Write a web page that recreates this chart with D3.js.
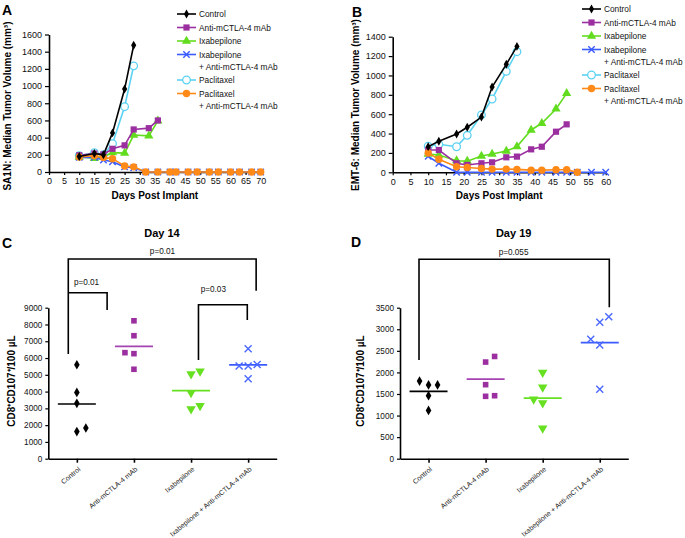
<!DOCTYPE html>
<html><head><meta charset="utf-8">
<script src="https://cdn.jsdelivr.net/npm/d3@7"></script>
<style>body{margin:0;background:#fff} svg text{font-family:"Liberation Sans",Arial,Helvetica,sans-serif}</style>
</head><body><svg id="c" width="685" height="538"></svg>
<script>
// ---------------- DATA ----------------
// Panel A (SA1N)
const aDaysShort = [10,15,18,21,25,28];
const aDaysMid = [10,15,18,21,25,28,33,36];
const aDaysLong = [10,15,18,21,25,28,32,36,40,42,46,49,53,56,60,63,67,70];
const aControl = [180,215,200,455,965,1475];
const aAnti = [195,215,205,270,310,495,510,600];
const aIxa = [175,160,180,225,220,430,420,595];
const aIxaAnti = [170,170,140,120,60,50,0,0,0,0,0,0,0,0,0,0,0,0];
const aPac = [190,225,200,330,760,1235];
const aPacAnti = [175,190,170,155,70,60,0,0,0,0,0,0,0,0,0,0,0,0];
const aXTicks = d3.range(0,71,5);
const aYTicks = d3.range(0,1601,200);

// Panel B (EMT-6)
const bDaysShort = [10,13,18,21,25,28,32,35];
const bDaysMid = [10,13,18,21,25,28,32,35,39,42,46,49];
const bDaysPA = [10,13,18,21,25,28,32,35,39,42,46,49,52];
const bDaysIA = [10,13,18,21,25,28,32,35,39,42,46,49,52,56,60];
const bControl = [265,320,395,465,570,880,1115,1300];
const bAnti = [230,230,93,76,93,103,155,162,237,264,419,495];
const bIxa = [189,179,120,115,168,189,220,265,437,506,654,815];
const bIxaAnti = [165,93,0,0,0,0,0,0,0,0,0,0,0,0,0];
const bPac = [270,289,264,382,592,757,1043,1245];
const bPacAnti = [200,134,58,50,40,33,33,30,22,22,27,27,0];
const bXTicks = d3.range(0,61,5);
const bYTicks = d3.range(0,1401,200);

// Legend labels
const legendNames = [["Control"],["Anti-mCTLA-4 mAb"],["Ixabepilone"],["Ixabepilone","+ Anti-mCTLA-4 mAb"],["Paclitaxel"],["Paclitaxel","+ Anti-mCTLA-4 mAb"]];

// Panels C / D categories
const groups = ["Control","Anti-mCTLA-4 mAb","Ixabepilone","Ixabepilone + Anti-mCTLA-4 mAb"];
// values and jitter slot (-1,0,1)
const cControl = [5600,3950,3300,1620,1830], cControlSlot=[0,0,0,0,1];
const cAnti = [8220,7330,6320,6260,5330], cAntiSlot=[0,0,-1,0,0];
const cIxa = [5050,5210,3930,3160,2960], cIxaSlot=[0,1,0,1,0];
const cIxaAnti = [6560,5520,5520,5620,4770], cIxaAntiSlot=[0,-1,0,1,0];
const cYTicks = d3.range(0,9001,1000);

const dControl = [1800,1710,1710,1460,1120], dControlSlot=[-1,0,1,0,0];
const dAnti = [2240,2370,1716,1446,1460], dAntiSlot=[0,1,0,0,1];
const dIxa = [2000,1654,1376,1291,704], dIxaSlot=[0,0,-1,0,0];
const dIxaAnti = [3290,3160,2767,2635,1608], dIxaAntiSlot=[1,0,-1,0,0];
const dYTicks = d3.range(0,3501,500);

// significance brackets: [leftIdx, rightIdx, topValue, leftBottom, rightBottom]
const cBrackets = [[-0.15,3.14,11900,6240,10010],[-0.15,0.53,9893,9893,8862],[2.13,2.985,9177,5882,8266]];
const cPLabels = [["p=0.01",1.5,12200],["p=0.01",0.17,10380],["p=0.03",2.39,9934]];
const dBrackets = [[-0.167,3.167,4622,2288,3510]];
const dPLabels = [["p=0.055",1.49,4733]];

// ---------------- DRAWING ----------------
const svg = d3.select("#c");
const FONT = '"Liberation Sans",Arial,Helvetica,sans-serif';
const COL = {control:"#000000", anti:"#9b2fa0", ixa:"#62dc1e", ixaAnti:"#3b5bff", pac:"#5cd2f2", pacAnti:"#ff8a18"};
const fmt = d3.format("d");

function marker(g, shape, color, x, y, size){
  if(shape==="x"){
    const s=size;
    g.append("path").attr("d",`M${x-s},${y-s}L${x+s},${y+s}M${x-s},${y+s}L${x+s},${y-s}`)
      .attr("stroke",color).attr("stroke-width",1.4).attr("fill","none");
    return;
  }
  let type, rot=0, area;
  if(shape==="diamond"){type=d3.symbolDiamond; area=size*size*2.0;}
  else if(shape==="square"){type=d3.symbolSquare; area=size*size*4;}
  else if(shape==="tri"){type=d3.symbolTriangle; area=size*size*3.2;}
  else if(shape==="triDown"){type=d3.symbolTriangle; area=size*size*3.2; rot=180;}
  else {type=d3.symbolCircle; area=Math.PI*size*size;}
  const p = g.append("path").attr("d",d3.symbol(type,area)())
    .attr("transform",`translate(${x},${y}) rotate(${rot})`);
  if(shape==="open") p.attr("fill","#fff").attr("stroke",color).attr("stroke-width",1.3);
  else p.attr("fill",color);
}

function styleAxis(ax, fs){
  ax.select(".domain").attr("stroke","#000").attr("stroke-width",1.6);
  ax.selectAll(".tick line").attr("stroke","#000").attr("stroke-width",1.2);
  ax.selectAll(".tick text").attr("font-size",fs).attr("font-family",FONT).attr("fill","#111");
}

function lineChart(cfg){
  const g = svg.append("g");
  const x = d3.scaleLinear().domain(cfg.xDomain).range(cfg.xRange);
  const y = d3.scaleLinear().domain(cfg.yDomain).range(cfg.yRange);
  const xa = g.append("g").attr("transform",`translate(0,${cfg.yRange[0]})`)
    .call(d3.axisBottom(x).tickValues(cfg.xTicks).tickFormat(fmt).tickSize(3).tickPadding(3).tickSizeOuter(0));
  styleAxis(xa, 9);
  const ya = g.append("g").attr("transform",`translate(${cfg.xRange[0]},0)`)
    .call(d3.axisLeft(y).tickValues(cfg.yTicks).tickFormat(fmt).tickSize(4).tickPadding(3).tickSizeOuter(0));
  styleAxis(ya, 9);
  g.append("text").attr("x",(cfg.xRange[0]+cfg.xRange[1])/2).attr("y",cfg.yRange[0]+27)
    .attr("text-anchor","middle").attr("font-weight","bold").attr("font-size",10).text("Days Post Implant");
  g.append("text").attr("transform",`translate(${cfg.yTitleX},${cfg.yTitleY}) rotate(-90)`)
    .attr("text-anchor","middle").attr("font-weight","bold").attr("font-size",10).text(cfg.yTitle);
  g.append("text").attr("x",cfg.panel[1]).attr("y",cfg.panel[2]).attr("font-weight","bold")
    .attr("font-size",14).text(cfg.panel[0]);
  const line = d3.line().x(d=>x(d[0])).y(d=>y(d[1]));
  cfg.series.forEach(s=>{
    const pts = d3.zip(s.days, s.values);
    g.append("path").attr("d",line(pts)).attr("fill","none").attr("stroke",s.color).attr("stroke-width",1.6);
    pts.forEach(p=>marker(g, s.shape, s.color, x(p[0]), y(p[1]), s.size));
  });
  // legend
  const lg = g.append("g");
  let yy = cfg.legend[2];
  cfg.legendItems.forEach((it,i)=>{
    lg.append("line").attr("x1",cfg.legend[0]).attr("x2",cfg.legend[0]+19).attr("y1",yy).attr("y2",yy)
      .attr("stroke",it.color).attr("stroke-width",1.6);
    marker(lg, it.shape, it.color, cfg.legend[0]+9.5, yy, it.size);
    legendNames[i].forEach((t,j)=>{
      lg.append("text").attr("x",cfg.legend[0]+22).attr("y",yy+3.1+j*12).attr("font-size",8.3).attr("fill","#111").text(t);
    });
    yy += 13.5 + (legendNames[i].length-1)*12;
  });
}

const specA = [
  {key:"pac", days:aDaysShort, values:aPac, shape:"open", size:3.8},
  {key:"ixa", days:aDaysMid, values:aIxa, shape:"tri", size:3.4},
  {key:"anti", days:aDaysMid, values:aAnti, shape:"square", size:3.1},
  {key:"ixaAnti", days:aDaysLong, values:aIxaAnti, shape:"x", size:3.2},
  {key:"pacAnti", days:aDaysLong, values:aPacAnti, shape:"circle", size:3.7},
  {key:"control", days:aDaysShort, values:aControl, shape:"diamond", size:3.4}
].map(s=>Object.assign(s,{color:COL[s.key]}));
const specB = [
  {key:"pac", days:bDaysShort, values:bPac, shape:"open", size:3.8},
  {key:"ixa", days:bDaysMid, values:bIxa, shape:"tri", size:3.4},
  {key:"anti", days:bDaysMid, values:bAnti, shape:"square", size:3.1},
  {key:"ixaAnti", days:bDaysIA, values:bIxaAnti, shape:"x", size:3.2},
  {key:"pacAnti", days:bDaysPA, values:bPacAnti, shape:"circle", size:3.7},
  {key:"control", days:bDaysShort, values:bControl, shape:"diamond", size:3.4}
].map(s=>Object.assign(s,{color:COL[s.key]}));
const legendItems = ["control","anti","ixa","ixaAnti","pac","pacAnti"].map(k=>specA.find(s=>s.key===k));

lineChart({xDomain:[0,70], xRange:[49,260.7], yDomain:[0,1600], yRange:[172,34.5],
  xTicks:aXTicks, yTicks:aYTicks, series:specA, legendItems, legend:[177,0,14],
  yTitle:"SA1N: Median Tumor Volume (mm³)", yTitleX:11, yTitleY:106, panel:["A",2,15]});
lineChart({xDomain:[0,60], xRange:[392.7,605.7], yDomain:[0,1400], yRange:[172.3,36.7],
  xTicks:bXTicks, yTicks:bYTicks, series:specB, legendItems, legend:[582,0,9],
  yTitle:"EMT-6: Median Tumor Volume (mm³)", yTitleX:359, yTitleY:105, panel:["B",352,17]});

function dotChart(cfg){
  const g = svg.append("g");
  const x = d3.scalePoint().domain(groups).range(cfg.xRange).padding(0.5);
  const step = x.step();
  const xi = i => cfg.xRange[0] + (i+0.5)*step;
  const y = d3.scaleLinear().domain(cfg.yDomain).range([458.7,307.7]);
  const xa = g.append("g").attr("transform","translate(0,458.7)")
    .call(d3.axisBottom(x).tickSize(4).tickSizeOuter(0).tickFormat(""));
  styleAxis(xa, 7);
  xa.selectAll(".tick line").attr("stroke-width",1.6);
  const ya = g.append("g").attr("transform",`translate(${cfg.xRange[0]},0)`)
    .call(d3.axisLeft(y).tickValues(cfg.yTicks).tickFormat(fmt).tickSize(3).tickPadding(3).tickSizeOuter(0));
  styleAxis(ya, 8.2);
  groups.forEach(gr=>{
    g.append("text").attr("transform",`translate(${x(gr)+4},${470}) rotate(-40)`)
      .attr("text-anchor","end").attr("font-size",7).attr("fill","#222").text(gr);
  });
  g.append("text").attr("transform",`translate(${cfg.yTitleX},381) rotate(-90)`)
    .attr("text-anchor","middle").attr("font-weight","bold").attr("font-size",10).text("CD8⁺CD107⁺/100 µL");
  g.append("text").attr("x",(cfg.xRange[0]+cfg.xRange[1])/2 - 0.5).attr("y",237).attr("text-anchor","middle")
    .attr("font-weight","bold").attr("font-size",11).text(cfg.title);
  g.append("text").attr("x",cfg.panel[1]).attr("y",cfg.panel[2]).attr("font-weight","bold")
    .attr("font-size",14).text(cfg.panel[0]);
  cfg.brackets.forEach(b=>{
    g.append("path").attr("d",`M${xi(b[0])},${y(b[3])}V${y(b[2])}H${xi(b[1])}V${y(b[4])}`)
      .attr("fill","none").attr("stroke","#000").attr("stroke-width",1.6);
  });
  cfg.plabels.forEach(p=>{
    g.append("text").attr("x",xi(p[1])).attr("y",y(p[2])).attr("text-anchor","middle")
      .attr("font-size",8.2).attr("fill","#111").text(p[0]);
  });
  cfg.sets.forEach((s,i)=>{
    const cx = x(groups[i]);
    const m = d3.mean(s.values);
    g.append("line").attr("x1",cx-19).attr("x2",cx+19).attr("y1",y(m)).attr("y2",y(m))
      .attr("stroke",s.lineColor).attr("stroke-width",1.7);
    s.values.forEach((v,k)=>marker(g, s.shape, s.color, cx + s.slots[k]*9, y(v), s.size));
  });
}

const cdStyle = [
  {shape:"diamond", color:"#000", lineColor:"#000", size:3.7},
  {shape:"square", color:"#9b2fa0", lineColor:"#a543b3", size:2.8},
  {shape:"triDown", color:"#66e020", lineColor:"#66e020", size:3.5},
  {shape:"x", color:"#4a68ff", lineColor:"#3b5bff", size:3.5}
];
dotChart({xRange:[48.3,276.7], yDomain:[0,9000], yTicks:cYTicks, yTitleX:15, title:"Day 14", panel:["C",2,248],
  brackets:cBrackets, plabels:cPLabels,
  sets:[[cControl,cControlSlot],[cAnti,cAntiSlot],[cIxa,cIxaSlot],[cIxaAnti,cIxaAntiSlot]].map((d,i)=>Object.assign({values:d[0],slots:d[1]},cdStyle[i]))});
dotChart({xRange:[400,628.3], yDomain:[0,3500], yTicks:dYTicks, yTitleX:364, title:"Day 19", panel:["D",351,247],
  brackets:dBrackets, plabels:dPLabels,
  sets:[[dControl,dControlSlot],[dAnti,dAntiSlot],[dIxa,dIxaSlot],[dIxaAnti,dIxaAntiSlot]].map((d,i)=>Object.assign({values:d[0],slots:d[1]},cdStyle[i]))});
</script></body></html>
